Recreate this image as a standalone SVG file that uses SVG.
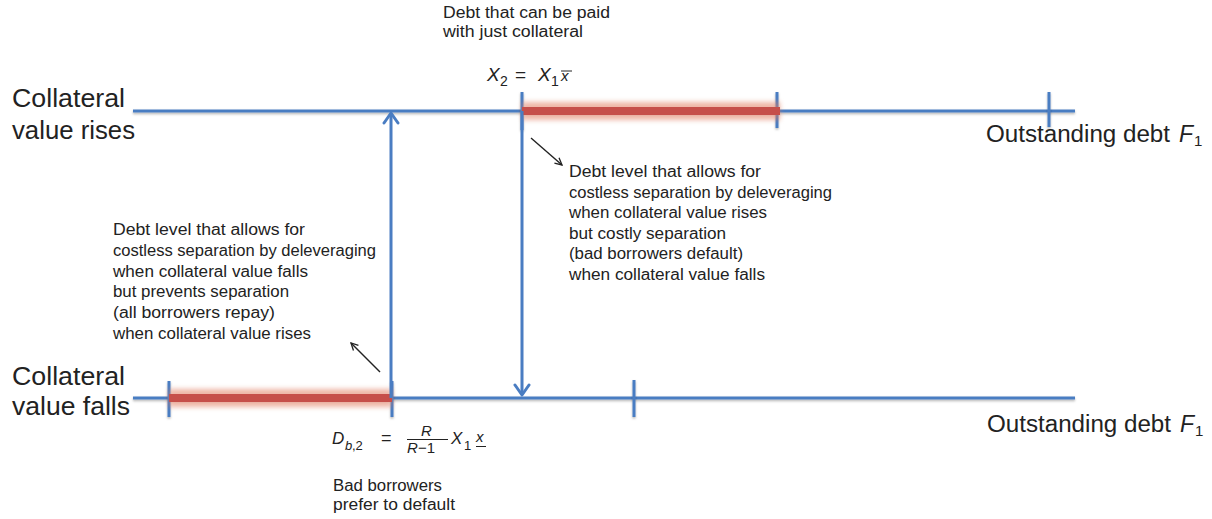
<svg xmlns="http://www.w3.org/2000/svg" width="1212" height="519" viewBox="0 0 1212 519">
<style>
.t{font-family:"Liberation Sans",Arial,sans-serif;font-size:16px;fill:#222}
.big{font-family:"Liberation Sans",Arial,sans-serif;font-size:25px;fill:#222}
.axl{font-family:"Liberation Sans",Arial,sans-serif;font-size:23px;fill:#222}
.m{font-family:"Liberation Sans",Arial,sans-serif;font-style:italic;fill:#222}
.mn{font-family:"Liberation Sans",Arial,sans-serif;fill:#222}
.ax{stroke:#4a7dc2;stroke-width:3;fill:none;filter:url(#sh)}
.tick{stroke:#4a7dc2;stroke-width:3;fill:none;filter:url(#sh)}
.va{stroke:#4a7dc2;stroke-width:3;fill:none;marker-end:url(#ba)}
.bk{stroke:#222;stroke-width:1.4;fill:none;marker-end:url(#ka)}
.glow{stroke:#e07a5f;stroke-width:18;opacity:0.55;filter:url(#bl)}
.bar{stroke:#c64f4a;stroke-width:8}
</style>
<defs>
<filter id="sh" filterUnits="userSpaceOnUse" x="0" y="0" width="1212" height="519">
<feDropShadow dx="0" dy="1.5" stdDeviation="0.8" flood-color="#000" flood-opacity="0.3"/>
</filter>
<filter id="bl" filterUnits="userSpaceOnUse" x="0" y="0" width="1212" height="519">
<feGaussianBlur stdDeviation="2.5"/>
</filter>
<marker id="ba" markerUnits="userSpaceOnUse" markerWidth="14" markerHeight="18" viewBox="0 0 14 18" refX="12" refY="9" orient="auto">
<path d="M2,2 L12,9 L2,16" fill="none" stroke="#4a7dc2" stroke-width="3" stroke-linejoin="round" stroke-linecap="round"/>
</marker>
<marker id="ka" markerUnits="userSpaceOnUse" markerWidth="10" markerHeight="10" viewBox="0 0 10 10" refX="9" refY="5" orient="auto">
<path d="M2,1.5 L9,5 L2,8.5" fill="none" stroke="#222" stroke-width="1.3"/>
</marker>
</defs>
<rect width="1212" height="519" fill="#fff"/>

<g id="axis-top">
<line class="ax" x1="133" y1="111" x2="1075" y2="111"/>
<line class="tick" x1="522" y1="92" x2="522" y2="130"/>
<line class="tick" x1="777" y1="92" x2="777" y2="128"/>
<line class="tick" x1="1049" y1="92" x2="1049" y2="127"/>
<line class="glow" x1="522" y1="111" x2="780" y2="111"/>
<line class="bar" x1="522" y1="111" x2="780" y2="111"/>
</g>

<g id="axis-bottom">
<line class="ax" x1="133" y1="398" x2="1075" y2="398"/>
<line class="tick" x1="169" y1="381" x2="169" y2="417"/>
<line class="tick" x1="392" y1="381" x2="392" y2="417"/>
<line class="tick" x1="634" y1="380" x2="634" y2="417"/>
<line class="glow" x1="169" y1="398" x2="392" y2="398"/>
<line class="bar" x1="169" y1="398" x2="392" y2="398"/>
</g>

<g id="connectors">
<line class="va" x1="391" y1="398" x2="391" y2="113"/>
<line class="va" x1="522" y1="111" x2="522" y2="395"/>
<line class="bk" x1="531" y1="138" x2="562" y2="165"/>
<line class="bk" x1="380" y1="372" x2="351" y2="343"/>
</g>

<g id="label-rises">
<text class="big" x="12" y="107" textLength="113" lengthAdjust="spacingAndGlyphs">Collateral</text>
<text class="big" x="12" y="139" textLength="123" lengthAdjust="spacingAndGlyphs">value rises</text>
</g>
<g id="label-falls">
<text class="big" x="12" y="385" textLength="113" lengthAdjust="spacingAndGlyphs">Collateral</text>
<text class="big" x="12" y="415" textLength="118" lengthAdjust="spacingAndGlyphs">value falls</text>
</g>

<g id="label-debt-top">
<text class="axl" x="986" y="142" textLength="184" lengthAdjust="spacingAndGlyphs">Outstanding debt</text>
<text class="m" x="1179" y="142" font-size="23">F</text>
<text class="mn" x="1194" y="146" font-size="15">1</text>
</g>
<g id="label-debt-bottom">
<text class="axl" x="987" y="432" textLength="184" lengthAdjust="spacingAndGlyphs">Outstanding debt</text>
<text class="m" x="1180" y="432" font-size="23">F</text>
<text class="mn" x="1195" y="436" font-size="15">1</text>
</g>

<g id="note-collateral">
<text class="t" x="443" y="18" textLength="167" lengthAdjust="spacingAndGlyphs">Debt that can be paid</text>
<text class="t" x="443" y="37" textLength="140" lengthAdjust="spacingAndGlyphs">with just collateral</text>
</g>

<g id="formula-x2">
<text class="m" x="487" y="81" font-size="19">X</text>
<text class="mn" x="500" y="86" font-size="14">2</text>
<text class="mn" x="515" y="81" font-size="19">=</text>
<text class="m" x="538" y="81" font-size="19">X</text>
<text class="mn" x="551" y="86" font-size="14">1</text>
<text class="m" x="561" y="81" font-size="15">x</text>
<line x1="561" y1="71" x2="572" y2="71" stroke="#222" stroke-width="1"/>
</g>

<g id="note-right">
<text class="t" x="569" y="177" textLength="192" lengthAdjust="spacingAndGlyphs">Debt level that allows for</text>
<text class="t" x="569" y="197.5" textLength="263" lengthAdjust="spacingAndGlyphs">costless separation by deleveraging</text>
<text class="t" x="569" y="218" textLength="198" lengthAdjust="spacingAndGlyphs">when collateral value rises</text>
<text class="t" x="569" y="238.5" textLength="157" lengthAdjust="spacingAndGlyphs">but costly separation</text>
<text class="t" x="569" y="259" textLength="174" lengthAdjust="spacingAndGlyphs">(bad borrowers default)</text>
<text class="t" x="569" y="279.5" textLength="196" lengthAdjust="spacingAndGlyphs">when collateral value falls</text>
</g>

<g id="note-left">
<text class="t" x="113" y="235" textLength="192" lengthAdjust="spacingAndGlyphs">Debt level that allows for</text>
<text class="t" x="113" y="255.8" textLength="263" lengthAdjust="spacingAndGlyphs">costless separation by deleveraging</text>
<text class="t" x="113" y="276.6" textLength="195" lengthAdjust="spacingAndGlyphs">when collateral value falls</text>
<text class="t" x="113" y="297.4" textLength="176" lengthAdjust="spacingAndGlyphs">but prevents separation</text>
<text class="t" x="113" y="318.2" textLength="162" lengthAdjust="spacingAndGlyphs">(all borrowers repay)</text>
<text class="t" x="113" y="339" textLength="198" lengthAdjust="spacingAndGlyphs">when collateral value rises</text>
</g>

<g id="formula-db2">
<text class="m" x="332" y="444" font-size="17">D</text>
<text class="m" x="345" y="450" font-size="13">b</text>
<text class="mn" x="352" y="450" font-size="13">,2</text>
<text class="mn" x="381" y="444" font-size="18">=</text>
<text class="m" x="421" y="436" font-size="15">R</text>
<line x1="407" y1="439.5" x2="448" y2="439.5" stroke="#222" stroke-width="1"/>
<text class="m" x="407" y="453" font-size="15">R</text>
<text class="mn" x="418" y="453" font-size="15">−1</text>
<text class="m" x="451" y="444" font-size="17">X</text>
<text class="mn" x="464" y="450" font-size="13">1</text>
<text class="m" x="476" y="442" font-size="15">x</text>
<line x1="476" y1="446.5" x2="486" y2="446.5" stroke="#222" stroke-width="1"/>
</g>

<g id="note-default">
<text class="t" x="333" y="491" textLength="109" lengthAdjust="spacingAndGlyphs">Bad borrowers</text>
<text class="t" x="333" y="510" textLength="122" lengthAdjust="spacingAndGlyphs">prefer to default</text>
</g>
</svg>
